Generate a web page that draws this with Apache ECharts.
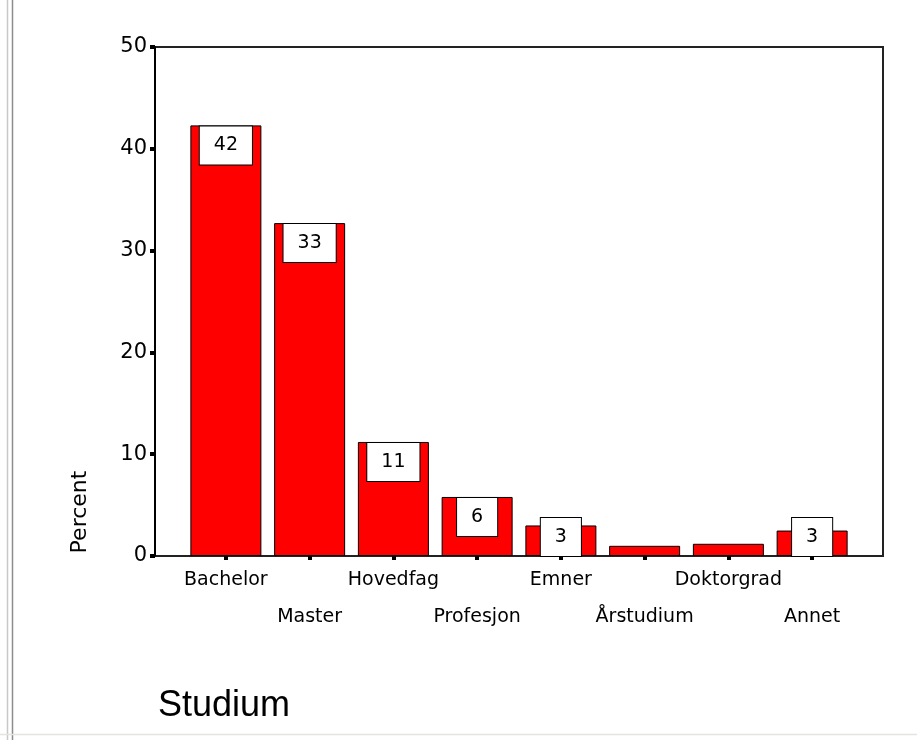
<!DOCTYPE html>
<html>
<head>
<meta charset="utf-8">
<script src="https://cdn.jsdelivr.net/npm/echarts@6/dist/echarts.min.js"></script>
<style>
html,body{margin:0;padding:0;background:#fff;}
#chart{width:917px;height:740px;}
</style>
</head>
<body>
<div id="chart"></div>
<script>
const categories = ['Bachelor','Master','Hovedfag','Profesjon','Emner','Årstudium','Doktorgrad','Annet'];
const percents = [42.3, 32.7, 11.2, 5.8, 3.0, 1.0, 1.2, 2.5];
const barLabels = ['42','33','11','6','3','','','3'];
const labelAtBottom = [false,false,false,false,true,false,false,true];
const yTicks = [0,10,20,30,40,50];

const chart = echarts.init(document.getElementById('chart'), null, {renderer:'canvas'});

const seriesData = percents.map((v,i)=>({
  value: v,
  label: {
    show: barLabels[i] !== '',
    position: labelAtBottom[i] ? 'insideBottom' : 'insideTop',
    distance: labelAtBottom[i] ? 0 : 1,
    formatter: barLabels[i]
  }
}));

const option = {
  animation: false,
  backgroundColor: '#fff',
  title: {
    text: 'Studium',
    left: 153,
    top: 683,
    textStyle: {fontFamily: 'Liberation Sans', fontSize: 36, fontWeight: 'normal', color: '#000'}
  },
  graphic: [
    {type:'line', shape:{x1:7.5,y1:0,x2:7.5,y2:740}, style:{stroke:'#c8c8c8', lineWidth:1.5}},
    {type:'line', shape:{x1:12.5,y1:0,x2:12.5,y2:740}, style:{stroke:'#8c8c8c', lineWidth:1.5}},
    {type:'line', shape:{x1:0,y1:734.5,x2:917,y2:734.5}, style:{stroke:'#e4e4e0', lineWidth:1.5}},
    {type:'text', x:80, y:512, rotation: Math.PI/2,
     style:{text:'Percent', fontFamily:'DejaVu Sans', fontSize:22, fill:'#000', textAlign:'center', textVerticalAlign:'middle'}}
  ],
  grid: [
    {left:155, right:34, top:47, bottom:184, show:true, borderColor:'#222', borderWidth:2, backgroundColor:'transparent'},
    {left:184, right:63, top:47, bottom:184}
  ],
  xAxis: [
    {type:'category', gridIndex:0, data:[''], show:false},
    {type:'category', gridIndex:1, data:categories,
     axisLine:{show:false},
     axisTick:{show:true, alignWithLabel:true, length:4, lineStyle:{color:'#000', width:4}},
     axisLabel:{interval:0, margin:6, fontFamily:'DejaVu Sans', fontSize:19, color:'#000', lineHeight:37,
       formatter:(v,i)=> (i%2===1 ? '\n'+v : v)}
    }
  ],
  yAxis: [
    {type:'value', gridIndex:0, min:yTicks[0], max:yTicks[yTicks.length-1], interval:10,
     axisLine:{show:true, lineStyle:{color:'#000', width:2}},
     axisTick:{show:true, length:5, lineStyle:{color:'#000', width:4}},
     axisLabel:{margin:8, fontFamily:'DejaVu Sans', fontSize:21, color:'#000'},
     splitLine:{show:false}
    },
    {type:'value', gridIndex:1, min:0, max:50, interval:10, show:false, splitLine:{show:false}}
  ],
  series: [{
    type:'bar',
    xAxisIndex:1, yAxisIndex:1,
    barWidth:71,
    data: seriesData,
    itemStyle:{color:'#ff0000', borderColor:'#000', borderWidth:1},
    label:{
      show:true,
      fontFamily:'DejaVu Sans', fontSize:19, color:'#000',
      backgroundColor:'#fff', borderColor:'#000', borderWidth:1,
      padding:[9,14], lineHeight:20
    }
  }]
};
chart.setOption(option);
</script>
</body>
</html>
